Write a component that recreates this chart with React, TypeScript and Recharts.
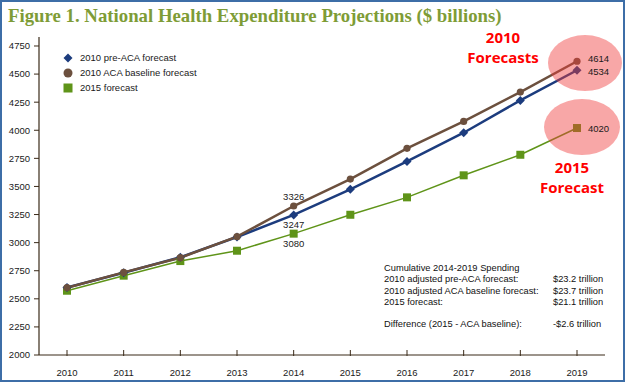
import React from 'react';
import { LineChart, Line, XAxis, YAxis, ReferenceDot } from 'recharts';

const years = ['2010', '2011', '2012', '2013', '2014', '2015', '2016', '2017', '2018', '2019'];
const preAca = [2600, 2732, 2870, 3050, 3247, 3474, 3723, 3978, 4266, 4534];
const acaBaseline = [2599, 2735, 2866, 3053, 3326, 3566, 3839, 4079, 4340, 4614];
const forecast2015 = [2572, 2706, 2836, 2928, 3080, 3248, 3403, 3599, 3782, 4020];

const yTicks = [2000, 2250, 2500, 2750, 3000, 3250, 3500, 3750, 4000, 4250, 4500, 4750];
const yTickLabels = ['2000', '2250', '2500', '2750', '3000', '3250', '3500', '2750', '4000', '4250', '4500', '4750'];

const seriesNames = ['2010 pre-ACA forecast', '2010 ACA baseline forecast', '2015 forecast'];
const labeledIndices = [4, 9];

const summaryRows = [
  ['2010 adjusted pre-ACA forecast:', '$23.2 trillion'],
  ['2010 adjusted ACA baseline forecast:', '$23.7 trillion'],
  ['2015 forecast:', '$21.1 trillion'],
];
const differenceRow = ['Difference (2015 - ACA baseline):', '-$2.6 trillion'];

const data = years.map((y, i) => ({
  year: y,
  pre: preAca[i],
  aca: acaBaseline[i],
  f15: forecast2015[i],
}));

const BLUE = '#1c3c7e';
const BROWN = '#6c503e';
const GREEN = '#5f9419';
const AXIS = '#3a2a18';
const FONT = '"Liberation Sans", Arial, sans-serif';

const DiamondDot = (p: any) => {
  const { cx, cy } = p;
  if (cx == null || cy == null) return <g />;
  const s = 4.5;
  return <polygon points={`${cx},${cy - s} ${cx + s},${cy} ${cx},${cy + s} ${cx - s},${cy}`} fill={BLUE} />;
};
const CircleDot = (p: any) => {
  const { cx, cy } = p;
  if (cx == null || cy == null) return <g />;
  return <circle cx={cx} cy={cy} r={3.6} fill={BROWN} />;
};
const SquareDot = (p: any) => {
  const { cx, cy } = p;
  if (cx == null || cy == null) return <g />;
  return <rect x={cx - 4} y={cy - 4} width={8} height={8} fill={GREEN} />;
};

const makeLabel = (pos2014: 'above' | 'below', dy2019: number) => (p: any) => {
  const { x, y, value, index } = p;
  if (!labeledIndices.includes(index)) return <g key={`l${index}`} />;
  if (index === 4) {
    return (
      <text key={`l${index}`} x={x} y={pos2014 === 'above' ? y - 10 : y + 10} textAnchor="middle" dominantBaseline="central"
        fontSize={9.5} fontFamily={FONT} fill="#1a1a1a">{value}</text>
    );
  }
  return (
    <text key={`l${index}`} x={x + 11} y={y + dy2019} textAnchor="start" dominantBaseline="central"
      fontSize={9.5} fontFamily={FONT} fill="#1a1a1a">{value}</text>
  );
};

const XTick = (p: any) => {
  const { x, y, payload } = p;
  return (
    <g>
      <line x1={x} x2={x} y1={y - 5} y2={y + 1} stroke={AXIS} strokeWidth={1} />
      <text x={x} y={y + 17} textAnchor="middle" dominantBaseline="central" fontSize={9.5} fontFamily={FONT} fill="#1a1a1a">
        {payload.value}
      </text>
    </g>
  );
};

const Ellipse = (dx: number, rx: number, ry: number) => (p: any) => {
  const { cx, cy } = p;
  if (cx == null || cy == null) return <g />;
  return <ellipse cx={cx + dx} cy={cy} rx={rx} ry={ry} fill="#f03c3c" fillOpacity={0.45} />;
};

const legendMarkers = [
  <polygon key="d" points="5,0.5 9.5,5 5,9.5 0.5,5" fill={BLUE} />,
  <circle key="c" cx={5} cy={5} r={4.5} fill={BROWN} />,
  <rect key="s" x={0.5} y={0.5} width={9} height={9} fill={GREEN} />,
];

const redText: React.CSSProperties = {
  position: 'absolute', width: 90, textAlign: 'center', fontFamily: '"Open Sans", sans-serif', fontWeight: 700,
  fontSize: 15, color: '#ff0000', lineHeight: '16px', whiteSpace: 'nowrap',
};

export default function App() {
  return (
    <div style={{ position: 'absolute', left: 0, top: 0, width: 625, height: 382, boxSizing: 'border-box', border: '2px solid #3d6ea7', background: '#fff', overflow: 'hidden' }}>
      <div style={{ position: 'absolute', left: -2, top: -2, width: 625, height: 382 }}>
        <LineChart width={625} height={382} data={data} margin={{ top: 37, right: 20, bottom: 0, left: 0 }}>
          <XAxis dataKey="year" height={27} padding={{ left: 28, right: 28 }} axisLine={{ stroke: AXIS, strokeWidth: 1.2 }}
            tickLine={false} tickSize={0} tickMargin={0} tick={<XTick />} interval={0} />
          <YAxis domain={[2000, 4830]} ticks={yTicks} width={39} axisLine={{ stroke: AXIS, strokeWidth: 1.2 }}
            tickLine={{ stroke: AXIS }} tickSize={5} tickMargin={4}
            tickFormatter={(v: number) => yTickLabels[yTicks.indexOf(v)]}
            tick={{ fontSize: 9.5, fontFamily: FONT, fill: '#1a1a1a' }} allowDataOverflow />
          <Line dataKey="f15" name={seriesNames[2]} stroke={GREEN} strokeWidth={1.5} dot={<SquareDot />} activeDot={false} isAnimationActive={false} label={makeLabel('below', 0)} />
          <Line dataKey="pre" name={seriesNames[0]} stroke={BLUE} strokeWidth={2.5} dot={<DiamondDot />} activeDot={false} isAnimationActive={false} label={makeLabel('below', 1)} />
          <Line dataKey="aca" name={seriesNames[1]} stroke={BROWN} strokeWidth={2.5} dot={<CircleDot />} activeDot={false} isAnimationActive={false} label={makeLabel('above', -3)} />
          <ReferenceDot x="2019" y={4598} r={1} ifOverflow="visible" shape={Ellipse(8, 37, 28)} />
          <ReferenceDot x="2019" y={4028} r={1} ifOverflow="visible" shape={Ellipse(5, 38, 28)} />
        </LineChart>
      </div>

      <div style={{ position: 'absolute', left: 6, top: 4, fontFamily: '"Liberation Serif", "Times New Roman", serif', fontWeight: 700, fontSize: 18.8, color: '#7e9c36', whiteSpace: 'nowrap', lineHeight: '20px' }}>
        Figure 1. National Health Expenditure Projections ($ billions)
      </div>

      <div style={{ position: 'absolute', left: 61, top: 48, fontFamily: FONT, fontSize: 9.5, color: '#1a1a1a' }}>
        {seriesNames.map((n, i) => (
          <div key={n} style={{ display: 'flex', alignItems: 'center', height: 15 }}>
            <svg width={10} height={10} style={{ marginRight: 7 }}>{legendMarkers[i]}</svg>
            <span>{n}</span>
          </div>
        ))}
      </div>

      <div style={{ ...redText, left: 456, top: 27 }}>2010</div>
      <div style={{ ...redText, left: 456, top: 47 }}>Forecasts</div>
      <div style={{ ...redText, left: 525, top: 157 }}>2015</div>
      <div style={{ ...redText, left: 525, top: 177 }}>Forecast</div>

      <div style={{ position: 'absolute', left: 382, top: 261, fontFamily: FONT, fontSize: 9.3, color: '#111', lineHeight: '11.3px', whiteSpace: 'nowrap' }}>
        <div>Cumulative 2014-2019 Spending</div>
        {summaryRows.map((r) => (
          <div key={r[0]} style={{ display: 'flex' }}>
            <span style={{ width: 169, display: 'inline-block' }}>{r[0]}</span>
            <span>{r[1]}</span>
          </div>
        ))}
        <div style={{ display: 'flex', marginTop: 11 }}>
          <span style={{ width: 169, display: 'inline-block' }}>{differenceRow[0]}</span>
          <span>{differenceRow[1]}</span>
        </div>
      </div>
    </div>
  );
}
